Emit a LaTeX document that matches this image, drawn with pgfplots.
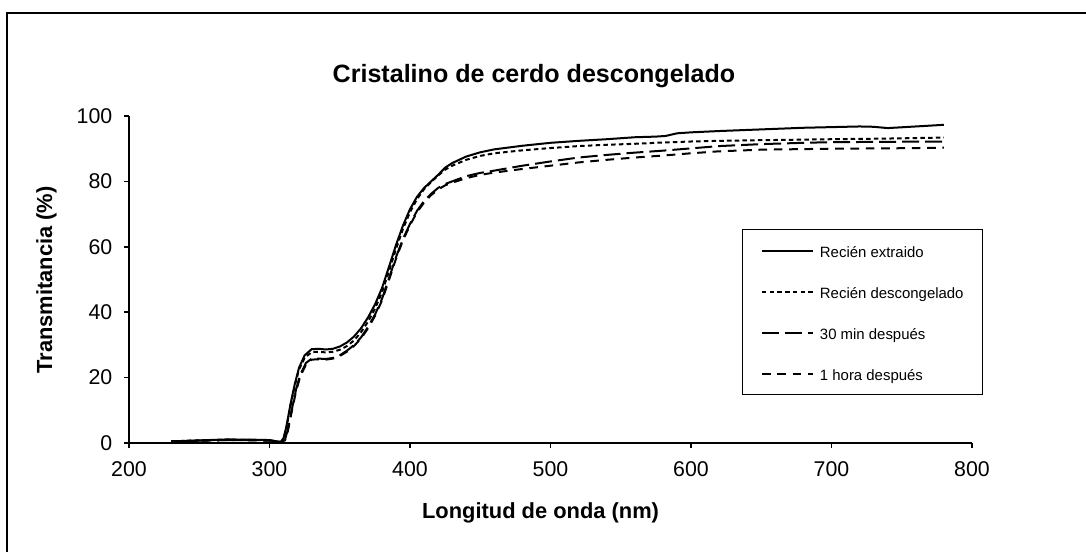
\documentclass[border=0pt]{standalone}
\usepackage{fontspec}
\setmainfont{Liberation Sans}
\usepackage{pgfplots}
\pgfplotsset{compat=1.18}
\begin{document}
\begin{tikzpicture}
\useasboundingbox (0,0) rectangle (814.5pt,-414pt);
\draw[line width=1.4pt] (5.25pt,-9.75pt) rectangle (840pt,-440pt);
\begin{axis}[
  at={(96.75pt,-332.25pt)}, anchor=south west,
  scale only axis, width=632.25pt, height=245.25pt,
  xmin=200, xmax=800, ymin=0, ymax=100,
  axis x line=bottom, axis y line=left,
  axis line style={-, line width=1.1pt, black},
  xtick={200,300,...,800}, ytick={0,20,...,100},
  tick align=outside, major tick length=3.75pt,
  tick style={line width=1.1pt, black},
  /pgf/number format/assume math mode=true,
  ticklabel style={font=\fontsize{16}{19}\selectfont},
  xticklabel style={yshift=-6.75pt},
  yticklabel style={xshift=-5.25pt},
  legend style={at={(0.7268,0.6544)}, anchor=north west, draw=black, line width=0.9pt,
    font=\fontsize{11.2}{13}\selectfont,
    nodes={inner sep=0pt, text height=15pt, text depth=4.5pt},
    row sep=11.25pt, column sep=4.5pt, inner xsep=14pt, inner ysep=6pt},
  legend cell align=left,
  legend image code/.code={\draw[#1, line width=1.5pt] (0pt,0pt) -- (38.25pt,0pt);},
]
\addplot[black, line width=1.5pt, solid] coordinates {
(230,0.5)(250,0.8)(270,1.1)(290,1.0)(300,0.9)(305,0.5)(308,0.3)(310,1.5)(312,5)(315,12)(318,18)(321,23)(325,26.8)(330,28.7)(335,28.8)(340,28.6)(345,28.8)(350,29.5)(355,30.7)(360,32.5)(365,35)(370,38.3)(375,42.3)(380,47.3)(385,53.8)(390,60.5)(395,66.5)(400,71.5)(405,75.3)(410,78)(415,80)(420,82)(425,84.2)(430,85.6)(440,87.6)(450,88.9)(460,89.8)(480,90.9)(500,91.8)(520,92.4)(540,92.9)(560,93.5)(575,93.7)(582,93.9)(590,94.7)(600,95)(620,95.4)(650,95.9)(680,96.4)(700,96.6)(720,96.8)(730,96.7)(740,96.3)(760,96.8)(780,97.3)
};
\addlegendentry{Recién extraido}
\addplot[black, line width=1.5pt, dash pattern=on 3.4pt off 2.4pt] coordinates {
(230,0.5)(250,0.8)(270,1.0)(290,0.9)(300,0.8)(305,0.5)(308,0.3)(310,1.2)(312,4.5)(315,11.5)(318,17.5)(321,22.5)(325,26)(330,27.8)(335,27.9)(340,27.7)(345,27.9)(350,28.5)(355,29.6)(360,31.3)(365,33.8)(370,37)(375,41)(380,46)(385,52.5)(390,59.3)(395,65.5)(400,70.6)(405,74.6)(410,77.6)(415,79.8)(420,81.8)(425,83.6)(430,84.8)(440,86.6)(450,87.8)(460,88.6)(480,89.5)(500,90.2)(520,90.8)(540,91.2)(560,91.5)(580,91.9)(600,92.2)(620,92.4)(650,92.6)(700,92.9)(740,93.1)(780,93.4)
};
\addlegendentry{Recién descongelado\hspace{4.5pt}}
\addplot[black, line width=1.5pt, dash pattern=on 12.75pt off 4.5pt] coordinates {
(230,0.5)(250,0.7)(270,0.9)(290,0.9)(300,0.8)(305,0.5)(308,0.3)(311,1)(313,4)(316,10.5)(319,16.5)(322,21)(326,24.5)(330,25.8)(335,25.8)(340,25.7)(345,26)(350,26.8)(355,28.2)(360,29.9)(365,32.2)(370,35.4)(375,39.2)(380,44)(385,50.3)(390,56.8)(395,62.4)(400,67)(405,71)(410,74)(415,76.2)(420,78)(425,79.2)(430,80)(440,81.6)(450,82.6)(460,83.3)(480,84.8)(500,86.1)(520,87.3)(540,88.1)(560,88.8)(580,89.4)(600,90.1)(620,90.8)(650,91.4)(680,91.8)(700,92)(740,92.1)(780,92.2)
};
\addlegendentry{30 min después}
\addplot[black, line width=1.5pt, dash pattern=on 6.5pt off 5pt] coordinates {
(230,0.5)(250,0.7)(270,0.9)(290,0.8)(300,0.7)(305,0.4)(308,0.3)(311,0.8)(313,3.5)(316,10)(319,16)(322,20.5)(326,24)(330,25.5)(335,25.6)(340,25.5)(345,25.8)(350,26.6)(355,27.9)(360,29.6)(365,31.9)(370,35)(375,38.8)(380,43.5)(385,49.8)(390,56.3)(395,62)(400,66.6)(405,70.6)(410,73.5)(415,75.8)(420,77.5)(425,78.8)(430,79.6)(440,81)(450,82)(460,82.7)(480,83.8)(500,84.8)(520,85.8)(540,86.6)(560,87.3)(580,87.9)(600,88.6)(620,89.2)(650,89.7)(700,90)(740,90.1)(780,90.3)
};
\addlegendentry{1 hora después}
\end{axis}
\node[font=\bfseries\fontsize{18.8}{22}\selectfont, anchor=base] at (400.5pt,-62.25pt) {Cristalino de cerdo descongelado};
\node[font=\bfseries\fontsize{16.4}{19}\selectfont, anchor=base] at (405.4pt,-388.75pt) {Longitud de onda (nm)};
\node[font=\bfseries\fontsize{16.4}{19}\selectfont, anchor=base, rotate=90] at (39pt,-210pt) {Transmitancia (\%)};
\end{tikzpicture}
\end{document}
